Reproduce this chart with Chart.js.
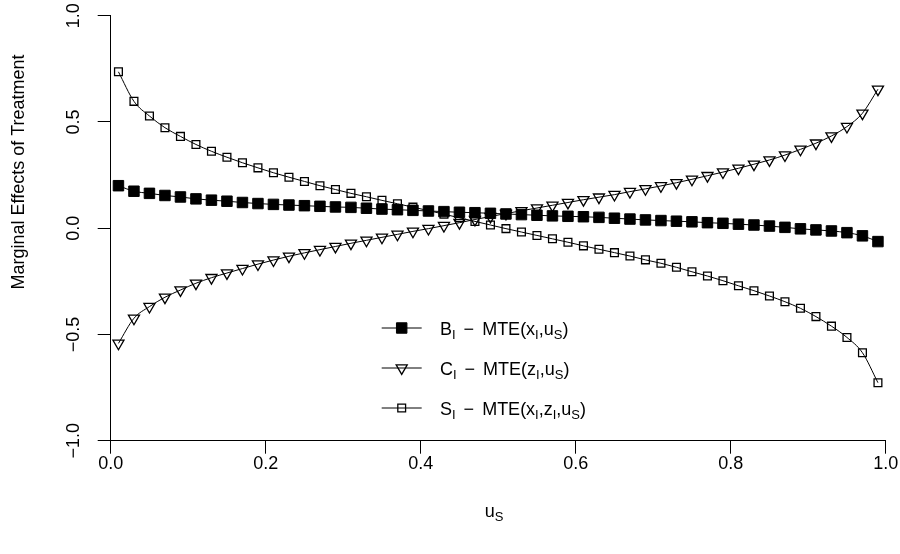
<!DOCTYPE html>
<html>
<head>
<meta charset="utf-8">
<script src="https://cdn.jsdelivr.net/npm/chart.js"></script>
<style>
  html, body { margin: 0; padding: 0; background: #ffffff; }
  #wrap { width: 900px; height: 554px; }
</style>
</head>
<body>
<div id="wrap"><canvas id="mte" width="900" height="554"></canvas></div>
<script>
// u_S grid where the markers sit
const uValues = [
  0.01, 0.03, 0.05, 0.07, 0.09, 0.11, 0.13, 0.15, 0.17, 0.19,
  0.21, 0.23, 0.25, 0.27, 0.29, 0.31, 0.33, 0.35, 0.37, 0.39,
  0.41, 0.43, 0.45, 0.47, 0.49, 0.51, 0.53, 0.55, 0.57, 0.59,
  0.61, 0.63, 0.65, 0.67, 0.69, 0.71, 0.73, 0.75, 0.77, 0.79,
  0.81, 0.83, 0.85, 0.87, 0.89, 0.91, 0.93, 0.95, 0.97, 0.99
];

// B_I - MTE(x_I,u_S)
const bValues = [
  0.200, 0.174, 0.164, 0.154, 0.147, 0.138, 0.132, 0.127, 0.121, 0.116,
  0.112, 0.109, 0.106, 0.103, 0.100, 0.098, 0.094, 0.090, 0.087, 0.084,
  0.081, 0.078, 0.075, 0.073, 0.070, 0.067, 0.064, 0.061, 0.058, 0.056,
  0.054, 0.051, 0.047, 0.043, 0.039, 0.036, 0.033, 0.030, 0.026, 0.023,
  0.019, 0.015, 0.010, 0.004, -0.003, -0.008, -0.013, -0.021, -0.036, -0.063
];

// C_I - MTE(z_I,u_S)
const cValues = [
  -0.542, -0.424, -0.369, -0.325, -0.291, -0.259, -0.233, -0.211, -0.190, -0.169,
  -0.150, -0.132, -0.116, -0.101, -0.086, -0.071, -0.057, -0.043, -0.029, -0.015,
  -0.002, 0.012, 0.026, 0.041, 0.055, 0.069, 0.082, 0.095, 0.108, 0.121,
  0.134, 0.146, 0.158, 0.172, 0.185, 0.199, 0.214, 0.230, 0.247, 0.264,
  0.282, 0.301, 0.321, 0.344, 0.371, 0.400, 0.434, 0.478, 0.541, 0.654
];

// S_I - MTE(x_I,z_I,u_S)
const sValues = [
  0.736, 0.597, 0.528, 0.473, 0.432, 0.394, 0.362, 0.334, 0.308, 0.284,
  0.261, 0.240, 0.220, 0.200, 0.182, 0.164, 0.148, 0.131, 0.115, 0.099,
  0.083, 0.066, 0.049, 0.032, 0.015, -0.002, -0.018, -0.034, -0.050, -0.066,
  -0.083, -0.099, -0.115, -0.131, -0.149, -0.165, -0.184, -0.205, -0.225, -0.247,
  -0.271, -0.294, -0.319, -0.346, -0.377, -0.416, -0.461, -0.514, -0.586, -0.727
];

const yTickValues = [-1, -0.5, 0, 0.5, 1];
const yTickLabels = ['\u22121.0', '\u22120.5', '0.0', '0.5', '1.0'];

const FONT = '"Liberation Sans", Arial, Helvetica, sans-serif';
const MAIN = 18;
const SUB = 13;

// text pieces, sub = drawn as subscript
const legendItems = [
  { parts: [{ t: 'B' }, { t: 'I', sub: true }, { t: ' \u2212 ', gap: 3 }, { t: 'MTE(x' }, { t: 'I', sub: true }, { t: ',u' }, { t: 'S', sub: true }, { t: ')' }] },
  { parts: [{ t: 'C' }, { t: 'I', sub: true }, { t: ' \u2212 ', gap: 3 }, { t: 'MTE(z' }, { t: 'I', sub: true }, { t: ',u' }, { t: 'S', sub: true }, { t: ')' }] },
  { parts: [{ t: 'S' }, { t: 'I', sub: true }, { t: ' \u2212 ', gap: 3 }, { t: 'MTE(x' }, { t: 'I', sub: true }, { t: ',z' }, { t: 'I', sub: true }, { t: ',u' }, { t: 'S', sub: true }, { t: ')' }] }
];

function toPoints(ys) {
  return uValues.map((u, i) => ({ x: u, y: ys[i] }));
}

const seriesStyle = [
  { pointStyle: 'rect', pointRadius: 7.4, pointRotation: 0, pointBackgroundColor: '#000000', pointBorderWidth: 1 },
  { pointStyle: 'triangle', pointRadius: 6.4, pointRotation: 180, pointBackgroundColor: 'rgba(0,0,0,0)', pointBorderWidth: 1.3 },
  { pointStyle: 'rect', pointRadius: 5.5, pointRotation: 0, pointBackgroundColor: 'rgba(0,0,0,0)', pointBorderWidth: 1.3 }
];

function drawRich(ctx, parts, x, y, align) {
  let total = 0;
  parts.forEach(p => {
    ctx.font = (p.sub ? SUB : MAIN) + 'px ' + FONT;
    total += ctx.measureText(p.t).width + (p.gap || 0) * 2;
  });
  let cx = align === 'center' ? x - total / 2 : x;
  ctx.textAlign = 'left';
  ctx.textBaseline = 'alphabetic';
  parts.forEach(p => {
    ctx.font = (p.sub ? SUB : MAIN) + 'px ' + FONT;
    cx += p.gap || 0;
    ctx.fillText(p.t, cx, p.sub ? y + 4 : y);
    cx += ctx.measureText(p.t).width + (p.gap || 0);
  });
}

const textPlugin = {
  id: 'rText',
  afterDraw(chart) {
    const ctx = chart.ctx;
    const yScale = chart.scales.y;
    const xScale = chart.scales.x;
    ctx.save();
    ctx.fillStyle = '#000000';

    // rotated y tick labels
    ctx.font = MAIN + 'px ' + FONT;
    yTickValues.forEach((v, i) => {
      ctx.save();
      ctx.translate(74, yScale.getPixelForValue(v));
      ctx.rotate(-Math.PI / 2);
      ctx.textAlign = 'center';
      ctx.textBaseline = 'middle';
      ctx.fillText(yTickLabels[i], 0, 0);
      ctx.restore();
    });

    // y axis title
    ctx.save();
    ctx.translate(19, 172);
    ctx.rotate(-Math.PI / 2);
    ctx.textAlign = 'center';
    ctx.textBaseline = 'middle';
    ctx.font = MAIN + 'px ' + FONT;
    ctx.fillText('Marginal Effects of Treatment', 0, 0);
    ctx.restore();

    // x axis title
    drawRich(ctx, [{ t: 'u' }, { t: 'S', sub: true }], (xScale.left + xScale.right) / 2 - 4, 517, 'center');

    // legend, no box
    const rowY = [328, 368, 408];
    legendItems.forEach((item, i) => {
      const st = seriesStyle[i];
      ctx.strokeStyle = '#000000';
      ctx.lineWidth = 1;
      ctx.beginPath();
      ctx.moveTo(381.7, rowY[i]);
      ctx.lineTo(421.7, rowY[i]);
      ctx.stroke();
      ctx.fillStyle = st.pointBackgroundColor;
      ctx.lineWidth = st.pointBorderWidth;
      Chart.helpers.drawPoint(ctx, {
        pointStyle: st.pointStyle,
        radius: st.pointRadius,
        rotation: st.pointRotation,
        borderWidth: st.pointBorderWidth
      }, 401.7, rowY[i]);
      ctx.fillStyle = '#000000';
      drawRich(ctx, item.parts, 440, rowY[i] + 6.5, 'left');
    });
    ctx.restore();
  }
};

Chart.defaults.font.family = FONT;
Chart.defaults.font.size = MAIN;
Chart.defaults.color = '#000000';

const allSeries = [bValues, cValues, sValues];

new Chart(document.getElementById('mte'), {
  type: 'line',
  data: {
    datasets: allSeries.map((vals, i) => Object.assign({
      data: toPoints(vals),
      borderColor: '#000000',
      borderWidth: 1,
      pointBorderColor: '#000000',
      cubicInterpolationMode: 'monotone',
      fill: false
    }, seriesStyle[i]))
  },
  options: {
    responsive: false,
    animation: false,
    layout: { padding: { top: 15.7, right: 14.3, bottom: 0, left: 0 } },
    plugins: {
      legend: { display: false },
      tooltip: { enabled: false }
    },
    scales: {
      x: {
        type: 'linear',
        min: 0,
        max: 1,
        ticks: {
          stepSize: 0.2,
          padding: 0,
          maxRotation: 0,
          callback: v => v.toFixed(1)
        },
        grid: { drawOnChartArea: false, drawTicks: true, tickLength: 13, color: '#000000', lineWidth: 1 },
        border: { display: true, color: '#000000', width: 1 },
        afterFit: s => { s.height = 554 - 440.7; }
      },
      y: {
        type: 'linear',
        min: -1,
        max: 1,
        ticks: { stepSize: 0.5, display: false },
        grid: { drawOnChartArea: false, drawTicks: true, tickLength: 13, color: '#000000', lineWidth: 1 },
        border: { display: true, color: '#000000', width: 1 },
        afterFit: s => { s.width = 110.7; }
      }
    }
  },
  plugins: [textPlugin]
});
</script>
</body>
</html>
